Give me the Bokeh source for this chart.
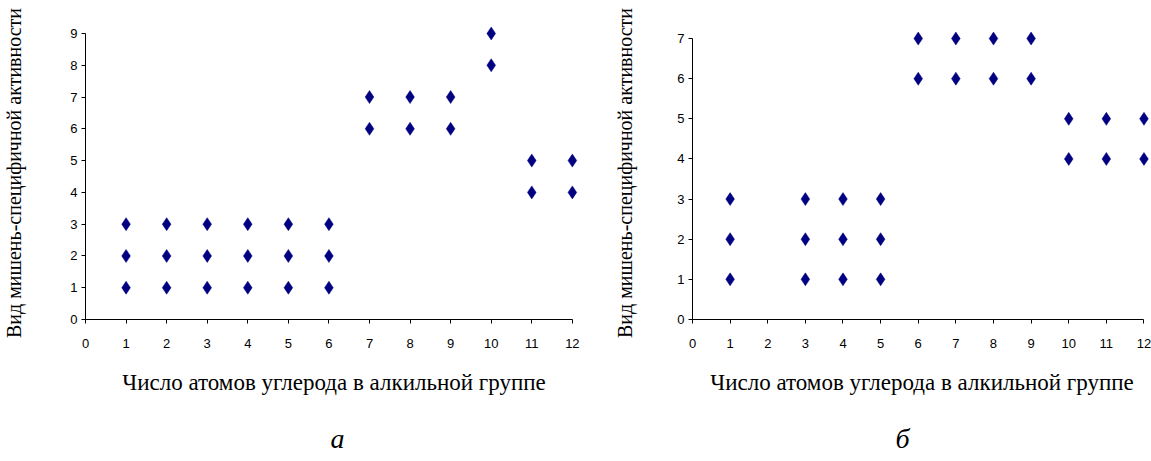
from bokeh.plotting import figure
from bokeh.layouts import row, column
from bokeh.models import Range1d, FixedTicker, Label
from bokeh.embed import file_html
from bokeh.resources import INLINE

# ---- data (panel a) ----
a_x = [1, 1, 1, 2, 2, 2, 3, 3, 3, 4, 4, 4, 5, 5, 5, 6, 6, 6,
       7, 7, 8, 8, 9, 9, 10, 10, 11, 11, 12, 12]
a_y = [1, 2, 3, 1, 2, 3, 1, 2, 3, 1, 2, 3, 1, 2, 3, 1, 2, 3,
       6, 7, 6, 7, 6, 7, 8, 9, 4, 5, 4, 5]
# ---- data (panel b) ----
b_x = [1, 1, 1, 3, 3, 3, 4, 4, 4, 5, 5, 5,
       6, 6, 7, 7, 8, 8, 9, 9, 10, 10, 11, 11, 12, 12]
b_y = [1, 2, 3, 1, 2, 3, 1, 2, 3, 1, 2, 3,
       6, 7, 6, 7, 6, 7, 6, 7, 4, 5, 4, 5, 4, 5]

x_ticks = list(range(0, 13))
a_y_ticks = list(range(0, 10))
b_y_ticks = list(range(0, 8))

x_title = "Число атомов углерода в алкильной группе"
y_title = "Вид мишень-специфичной активности"
a_label = "а"
b_label = "б"

TICK_FONT = "'Liberation Sans Narrow', 'Liberation Sans', Arial, sans-serif"
SERIF = "'Liberation Serif', 'Times New Roman', serif"
MARK = "#000080"


def make(xs, ys, yticks, x_end, y_end, y_max, width, height,
         mb_left, mb_right, mb_top, mb_bottom, ylab_standoff):
    p = figure(width=width, height=height, output_backend="svg",
               toolbar_location=None,
               x_range=Range1d(0, x_end), y_range=Range1d(0, y_end),
               min_border_left=mb_left, min_border_right=mb_right,
               min_border_top=mb_top, min_border_bottom=mb_bottom)
    p.outline_line_color = None
    p.background_fill_color = "white"
    p.border_fill_color = "white"
    p.xgrid.visible = False
    p.ygrid.visible = False

    p.scatter(xs, ys, marker="diamond", size=13,
              fill_color=MARK, line_color=MARK, line_width=0.5)

    for ax in (p.xaxis[0], p.yaxis[0]):
        ax.axis_line_color = "black"
        ax.axis_line_width = 1
        ax.major_tick_in = 0
        ax.major_tick_out = 4
        ax.major_tick_line_color = "black"
        ax.minor_tick_line_color = None
        ax.major_label_text_font = TICK_FONT
        ax.major_label_text_font_size = "13px"
        ax.major_label_text_color = "black"
        ax.axis_label_text_font = SERIF
        ax.axis_label_text_font_style = "normal"
        ax.axis_label_text_color = "black"

    p.xaxis[0].ticker = FixedTicker(ticks=x_ticks)
    p.xaxis[0].bounds = (0, 12)
    p.xaxis[0].major_label_standoff = 15
    p.xaxis[0].axis_label = x_title
    p.xaxis[0].axis_label_text_font_size = "23px"
    p.xaxis[0].axis_label_standoff = 19

    p.yaxis[0].ticker = FixedTicker(ticks=yticks)
    p.yaxis[0].bounds = (0, y_max)
    p.yaxis[0].major_label_standoff = 4
    p.yaxis[0].axis_label = y_title
    p.yaxis[0].axis_label_text_font_size = "20px"
    p.yaxis[0].axis_label_standoff = ylab_standoff
    return p


def letter_fig(width, height, text, lx, ly):
    q = figure(width=width, height=height, output_backend="svg",
               toolbar_location=None, x_range=Range1d(0, 1),
               y_range=Range1d(0, 1), min_border=0)
    q.axis.visible = False
    q.grid.visible = False
    q.outline_line_color = None
    q.add_layout(Label(x=lx, y=ly, x_units="screen", y_units="screen",
                       text=text, text_font=SERIF, text_font_style="italic",
                       text_font_size="28px", text_align="center",
                       text_baseline="middle", text_color="black"))
    return q


p1 = make(a_x, a_y, a_y_ticks, 12.25, 9.22, 9, 590, 402,
          85, 8, 26, 83, 42)
p2 = make(b_x, b_y, b_y_ticks, 12.2, 7.3, 7, 561, 402,
          102, 0, 26, 83, 38)
q1 = letter_fig(590, 58, a_label, 252, 22)
q2 = letter_fig(561, 58, b_label, 210, 22)

layout = row(column(p1, q1, spacing=0), column(p2, q2, spacing=0), spacing=0)
open("out.html", "w").write(file_html(layout, INLINE))
